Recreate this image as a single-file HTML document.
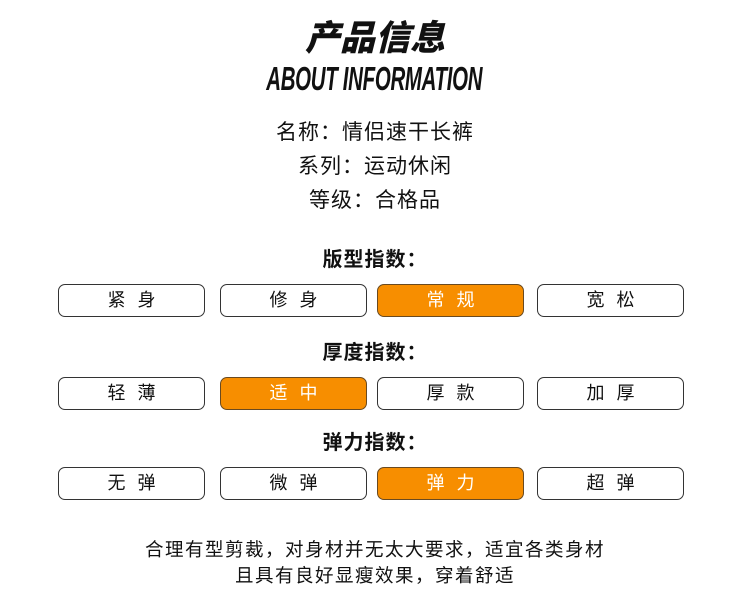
<!DOCTYPE html>
<html><head><meta charset="utf-8"><style>
*{margin:0;padding:0;box-sizing:border-box}
body{width:750px;height:604px;background:#fff;position:relative;overflow:hidden;font-family:"Liberation Sans","Noto Sans CJK SC",sans-serif;color:#111}
.a{position:absolute;left:0;width:750px;text-align:center;white-space:nowrap}
.t1{top:17px;font-size:35px;font-weight:900;font-style:italic;line-height:44px}
.t2{top:62px;line-height:34px;font-size:33px;font-weight:bold;font-style:italic;transform:scaleX(0.62);transform-origin:373px 0;letter-spacing:-0.5px}
.inf{font-size:21px;letter-spacing:1px;line-height:26px}
.sec{font-size:20px;font-weight:bold;letter-spacing:1px;line-height:26px}
.b{position:absolute;width:147px;height:33px;border:1.5px solid #333;border-radius:7px;text-align:center;line-height:30px;font-size:18px;letter-spacing:12px;padding-left:12px;background:#fff;color:#111}
.o{background:#f78e00;color:#fff;border-color:#6a4a20}
.bt{font-size:18.5px;letter-spacing:1.5px;line-height:26px}
</style></head><body>
<div class="a t1">产品信息</div>
<div class="a t2">ABOUT INFORMATION</div>
<div class="a inf" style="top:120px">名称：情侣速干长裤</div>
<div class="a inf" style="top:154px">系列：运动休闲</div>
<div class="a inf" style="top:188px">等级：合格品</div>
<div class="a sec" style="top:247px">版型指数：</div>
<div class="b" style="left:58px;top:284px">紧身</div>
<div class="b" style="left:220px;top:284px">修身</div>
<div class="b o" style="left:377px;top:284px">常规</div>
<div class="b" style="left:537px;top:284px">宽松</div>
<div class="a sec" style="top:340px">厚度指数：</div>
<div class="b" style="left:58px;top:377px">轻薄</div>
<div class="b o" style="left:220px;top:377px">适中</div>
<div class="b" style="left:377px;top:377px">厚款</div>
<div class="b" style="left:537px;top:377px">加厚</div>
<div class="a sec" style="top:430px">弹力指数：</div>
<div class="b" style="left:58px;top:467px">无弹</div>
<div class="b" style="left:220px;top:467px">微弹</div>
<div class="b o" style="left:377px;top:467px">弹力</div>
<div class="b" style="left:537px;top:467px">超弹</div>
<div class="a bt" style="top:537px">合理有型剪裁，对身材并无太大要求，适宜各类身材</div>
<div class="a bt" style="top:563px">且具有良好显瘦效果，穿着舒适</div>
</body></html>
